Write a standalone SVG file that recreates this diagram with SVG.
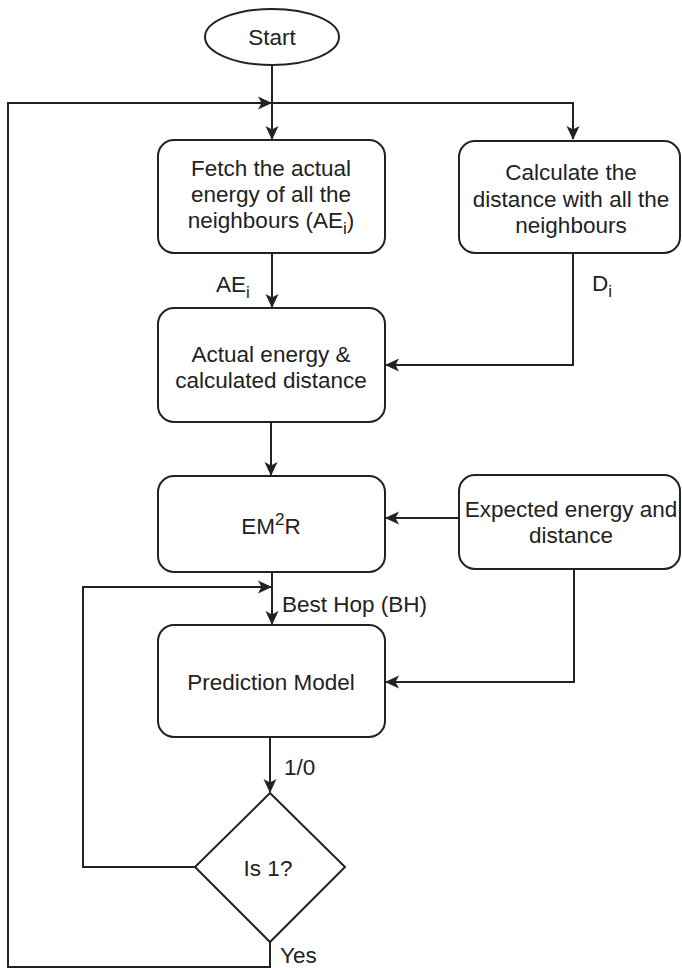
<svg xmlns="http://www.w3.org/2000/svg" width="682" height="970" viewBox="0 0 682 970">
  <style>
    .shape { fill: #ffffff; stroke: #222222; stroke-width: 2; }
    .wire { fill: none; stroke: #222222; stroke-width: 2; }
    .label { font-family: "Liberation Sans", Arial, sans-serif; font-size: 22.5px; fill: #222222; }
    .mid { text-anchor: middle; }
  </style>
  <defs>
    <marker id="arrow" viewBox="0 0 14 14" refX="13" refY="7" markerWidth="14" markerHeight="14" markerUnits="userSpaceOnUse" orient="auto">
      <path d="M0,0.5 L14,7 L0,13.5 L3.5,7 z" fill="#222222"/>
    </marker>
  </defs>
  <rect width="682" height="970" fill="#ffffff"/>

  <!-- connectors -->
  <g id="connectors">
    <path class="wire" d="M272,66 V139" marker-end="url(#arrow)"/>
    <path class="wire" d="M272,103 H573 V139" marker-end="url(#arrow)"/>
    <path class="wire" d="M272,253 V307" marker-end="url(#arrow)"/>
    <path class="wire" d="M573,253 V365 H386" marker-end="url(#arrow)"/>
    <path class="wire" d="M271,422 V475" marker-end="url(#arrow)"/>
    <path class="wire" d="M459,518 H386" marker-end="url(#arrow)"/>
    <path class="wire" d="M272,572 V624" marker-end="url(#arrow)"/>
    <path class="wire" d="M574,569 V682 H386" marker-end="url(#arrow)"/>
    <path class="wire" d="M270,737 V792" marker-end="url(#arrow)"/>
    <path class="wire" d="M195,867 H83 V587 H271" marker-end="url(#arrow)"/>
    <path class="wire" d="M270,942 V967 H8 V103 H271" marker-end="url(#arrow)"/>
    <text class="label" x="233" y="292" text-anchor="middle">AE<tspan font-size="17" dy="6">i</tspan></text>
    <text class="label" x="592" y="291">D<tspan font-size="17" dy="6">i</tspan></text>
    <text class="label" x="282" y="612">Best Hop (BH)</text>
    <text class="label" x="284" y="775">1/0</text>
    <text class="label" x="280" y="963">Yes</text>
  </g>

  <g id="start">
    <ellipse class="shape" cx="272" cy="37" rx="67" ry="28"/>
    <text class="label mid" x="272" y="45">Start</text>
  </g>

  <g id="fetch-energy">
    <rect class="shape" x="158" y="140" width="227" height="113" rx="16"/>
    <text class="label mid" x="271" y="176">Fetch the actual</text>
    <text class="label mid" x="271" y="202">energy of all the</text>
    <text class="label mid" x="271" y="228">neighbours (AE<tspan font-size="17" dy="6">i</tspan><tspan dy="-6">)</tspan></text>
  </g>

  <g id="calc-distance">
    <rect class="shape" x="459" y="141" width="221" height="112" rx="16"/>
    <text class="label mid" x="571" y="180">Calculate the</text>
    <text class="label mid" x="571" y="207">distance with all the</text>
    <text class="label mid" x="571" y="233">neighbours</text>
  </g>

  <g id="actual-and-calculated">
    <rect class="shape" x="158" y="308" width="227" height="114" rx="16"/>
    <text class="label mid" x="271" y="362">Actual energy &amp;</text>
    <text class="label mid" x="271" y="388">calculated distance</text>
  </g>

  <g id="em2r">
    <rect class="shape" x="158" y="476" width="227" height="96" rx="16"/>
    <text class="label mid" x="271" y="534">EM<tspan font-size="17" dy="-9">2</tspan><tspan dy="9">R</tspan></text>
  </g>

  <g id="expected">
    <rect class="shape" x="459" y="475" width="221" height="94" rx="16"/>
    <text class="label mid" x="571" y="517">Expected energy and</text>
    <text class="label mid" x="571" y="543">distance</text>
  </g>

  <g id="prediction-model">
    <rect class="shape" x="158" y="625" width="227" height="112" rx="16"/>
    <text class="label mid" x="271" y="690">Prediction Model</text>
  </g>

  <g id="is-one">
    <polygon class="shape" points="270,793 345,867 270,942 195,867"/>
    <text class="label mid" x="268" y="876">Is 1?</text>
  </g>
</svg>
